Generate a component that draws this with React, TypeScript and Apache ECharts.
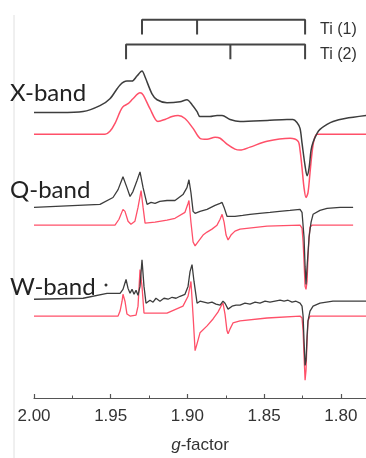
import React, { useEffect, useRef } from "react";
import * as echarts from "echarts";

// [g-factor, intensity (arb. units, relative to trace baseline)]
const xBandExp: [number, number][] = [
  [2.0, -1], [1.983, -1], [1.968, 0], [1.957, 6], [1.9505, 13], [1.9439, 27], [1.9394, 31], [1.9361, 31],
  [1.9329, 36], [1.9296, 41], [1.9276, 35], [1.9231, 18], [1.9198, 12], [1.9133, 9], [1.9048, 10], [1.9003, 12],
  [1.897, 7], [1.8937, 0], [1.8918, -5], [1.8853, -5], [1.8807, -4], [1.8774, -4], [1.8722, -8], [1.8657, -10],
  [1.8481, -9], [1.8351, -8], [1.8312, -8], [1.8286, -11], [1.8266, -17], [1.8253, -32], [1.8233, -55], [1.822, -65],
  [1.8207, -57], [1.8194, -39], [1.8181, -31], [1.8155, -22], [1.8136, -18], [1.809, -13], [1.8051, -10], [1.7973, -7],
  [1.7836, -4],
];
const xBandSim: [number, number][] = [
  [2.0, 0], [1.9537, 0], [1.9505, 3], [1.9472, 11], [1.9439, 23], [1.942, 28], [1.9387, 31], [1.9355, 36],
  [1.9309, 42], [1.9289, 40], [1.9244, 26], [1.9192, 13], [1.9146, 15], [1.91, 18], [1.9061, 19], [1.9016, 16],
  [1.8963, 6], [1.8918, -4], [1.8872, -5], [1.882, -3], [1.8787, -4], [1.8742, -10], [1.869, -15], [1.8657, -16],
  [1.8592, -13], [1.8481, -7], [1.8331, -4], [1.8279, -7], [1.8266, -16], [1.8253, -34], [1.824, -54], [1.8227, -64],
  [1.8214, -59], [1.8201, -39], [1.8188, -19], [1.8175, -6], [1.8155, 0], [1.7836, 0],
];
const qBandExp: [number, number][] = [
  [2.0, 0], [1.957, 3], [1.9485, 10], [1.9452, 18], [1.942, 31], [1.9394, 20], [1.9374, 11], [1.9355, 16],
  [1.9329, 27], [1.9309, 36], [1.9289, 20], [1.9263, 3], [1.9237, 5], [1.9211, 4], [1.918, 6], [1.9133, 7],
  [1.9081, 7], [1.9029, 13], [1.9003, 20], [1.899, 28], [1.8977, 15], [1.8963, -4], [1.895, -6], [1.8918, -4],
  [1.8872, -2], [1.882, 2], [1.8787, 4], [1.8774, 5], [1.8761, 0], [1.8742, -9], [1.869, -9], [1.864, -8],
  [1.8592, -7], [1.853, -6], [1.8462, -5], [1.84, -4], [1.8331, -3], [1.8266, -2], [1.8253, -5], [1.824, -30],
  [1.8233, -60], [1.8227, -78], [1.822, -60], [1.8207, -30], [1.8194, -15], [1.8181, -7], [1.8136, -3], [1.809, -1],
  [1.8005, 0], [1.792, 0],
];
const qBandSim: [number, number][] = [
  [2.0, 0], [1.9472, 0], [1.9446, 6], [1.942, 16], [1.9407, 14], [1.9387, 4], [1.9368, 1], [1.9342, 4],
  [1.9322, 18], [1.9302, 35], [1.9289, 18], [1.9276, 2], [1.9211, 3], [1.9133, 5], [1.9081, 7], [1.9016, 13],
  [1.8996, 22], [1.899, 25], [1.8977, 3], [1.8963, -17], [1.895, -21], [1.8931, -17], [1.8898, -10], [1.8872, -7],
  [1.884, -4], [1.8807, 0], [1.8787, 6], [1.8774, 11], [1.8761, 3], [1.8748, -10], [1.8735, -15], [1.8716, -10],
  [1.869, -6], [1.8657, -4], [1.8481, -1], [1.8266, 0], [1.8253, -3], [1.8246, -17], [1.824, -37], [1.8233, -62],
  [1.8227, -65], [1.822, -57], [1.8214, -32], [1.8207, -12], [1.8201, -2], [1.8188, 0], [1.792, 0],
];
const wBandExp: [number, number][] = [
  [2.0, 0], [1.968, 1], [1.9524, 6], [1.9439, 6], [1.942, 10], [1.94, 20], [1.9387, 11], [1.9374, 6],
  [1.9361, 10], [1.9348, 5], [1.9335, 9], [1.9322, 4], [1.9309, 13], [1.9296, 40], [1.9283, 13], [1.927, -4],
  [1.9244, -1], [1.9224, -3], [1.9205, 1], [1.9179, -2], [1.9153, 1], [1.9126, 0], [1.91, 2], [1.9074, 1],
  [1.9048, 3], [1.9016, 5], [1.8996, 13], [1.8983, 28], [1.897, 35], [1.8957, 18], [1.8937, -4], [1.8918, -2],
  [1.8892, -3], [1.8866, -4], [1.884, -3], [1.8814, -5], [1.8787, -6], [1.8768, -2], [1.8755, -4], [1.8735, -10],
  [1.8709, -7], [1.8683, -6], [1.8657, -6], [1.8625, -4], [1.8592, -5], [1.8559, -3], [1.8527, -4], [1.8494, -2],
  [1.8462, -3], [1.8429, -2], [1.8396, -1], [1.837, -2], [1.8344, -1], [1.8318, -3], [1.8292, -2], [1.8266, -4],
  [1.8253, -7], [1.8246, -17], [1.824, -42], [1.8233, -67], [1.8227, -62], [1.822, -37], [1.8214, -22], [1.8201, -12],
  [1.8181, -7], [1.8136, -4], [1.8051, -2], [1.7836, -2],
];
const wBandSim: [number, number][] = [
  [2.0, 0], [1.9452, 0], [1.9439, 5], [1.9426, 15], [1.942, 22], [1.9407, 15], [1.9394, 2], [1.9374, 0],
  [1.9335, 1], [1.9322, 10], [1.9309, 47], [1.9296, 30], [1.9283, 3], [1.9133, 3], [1.9029, 10], [1.8996, 20],
  [1.8983, 30], [1.8977, 35], [1.8963, 0], [1.895, -35], [1.8937, -28], [1.8918, -17], [1.8872, -10], [1.8833, -3],
  [1.8801, 4], [1.8774, 12], [1.8768, 13], [1.8755, 2], [1.8742, -15], [1.8735, -18], [1.8722, -13], [1.8703, -7],
  [1.8657, -5], [1.8481, -2], [1.8266, 0], [1.8253, -2], [1.8246, -15], [1.824, -40], [1.8233, -65], [1.8227, -55],
  [1.822, -25], [1.8214, -5], [1.8201, 0], [1.7836, 0],
];

const ti1Positions = [1.9296, 1.8937, 1.8233];
const ti2Positions = [1.94, 1.872, 1.8233];
const siteLabels = ["Ti (1)", "Ti (2)"];
const bandLabels = ["X-band", "Q-band", "W-band"];
const majorTicks = [1.8, 1.85, 1.9, 1.95, 2.0];
const minorTicks = [1.825, 1.875, 1.925, 1.975];

// layout (stacking offsets on the hidden y axis)
const OFF = { xExp: 290, xSim: 267, qExp: 193, qSim: 175, wExp: 100, wSim: 83 };
const STICK = { ti1: 383, ti2: 358, drop: 15 };

const BLACK = "#3d3d3d";
const RED = "#ff5069";

function shift(d: [number, number][], off: number) {
  return d.map(([g, v]) => [g, v + off]);
}
function stick(pos: number[], top: number, drop: number) {
  const pts: number[][] = [];
  pos.forEach((g, i) => {
    if (i === 0) {
      pts.push([g, top - drop], [g, top]);
    } else {
      pts.push([g, top], [g, top - drop], [g, top]);
    }
  });
  return pts;
}

export default function App() {
  const ref = useRef<HTMLDivElement>(null);
  useEffect(() => {
    if (!ref.current) return;
    const chart = echarts.init(ref.current, undefined, { renderer: "svg" });
    const line = (data: number[][], color: string, width = 1.5, smooth: number | boolean = false) => ({
      type: "line",
      data,
      symbol: "none",
      smooth,
      lineStyle: { color, width },
      xAxisIndex: 0,
      yAxisIndex: 0,
      z: color === RED ? 2 : 3,
    });
    chart.setOption({
      animation: false,
      grid: { left: 34, right: 0, top: 0, bottom: 55 },
      xAxis: [
        {
          type: "value",
          inverse: true,
          min: 1.7836,
          max: 2.0,
          name: "{i|g}-factor",
          nameLocation: "middle",
          nameGap: 38,
          nameTextStyle: {
            fontFamily: "Liberation Sans",
            fontSize: 17,
            color: "#333",
            rich: { i: { fontStyle: "italic", fontFamily: "Liberation Sans", fontSize: 17, color: "#333" } },
          },
          axisLine: { show: true, lineStyle: { color: "#555", width: 1.2 } },
          axisTick: { show: true, inside: true, length: 4, customValues: majorTicks, lineStyle: { color: "#555", width: 1.2 } },
          axisLabel: {
            customValues: majorTicks,
            margin: 9,
            fontFamily: "Liberation Sans",
            fontSize: 17,
            color: "#333",
            formatter: (v: number) => v.toFixed(2),
          },
          splitLine: { show: false },
        },
        {
          type: "value",
          inverse: true,
          min: 1.7836,
          max: 2.0,
          position: "bottom",
          axisLine: { show: false },
          axisTick: { show: true, inside: true, length: 2.5, customValues: minorTicks, lineStyle: { color: "#555", width: 1 } },
          axisLabel: { show: false },
          splitLine: { show: false },
        },
      ],
      yAxis: { type: "value", min: 0, max: 403, show: false },
      series: [
        line(stick(ti1Positions, STICK.ti1, STICK.drop), "#444", 2),
        line(stick(ti2Positions, STICK.ti2, STICK.drop), "#444", 2),
        line(shift(xBandSim, OFF.xSim), RED, 1.5, 0.3),
        line(shift(xBandExp, OFF.xExp), BLACK, 1.5, 0.3),
        line(shift(qBandSim, OFF.qSim), RED, 1.3),
        line(shift(qBandExp, OFF.qExp), BLACK, 1.3),
        line(shift(wBandSim, OFF.wSim), RED, 1.3),
        line(shift(wBandExp, OFF.wExp), BLACK, 1.3),
      ],
      graphic: [
        { type: "line", shape: { x1: 14, y1: 15, x2: 14, y2: 458 }, style: { stroke: "#e0e0e0", lineWidth: 1 } },
        ...siteLabels.map((t, i) => ({
          type: "text",
          x: 320,
          y: 28 + i * 25,
          style: { text: t, fontFamily: "Liberation Sans", fontSize: 16, fill: "#333", verticalAlign: "middle" },
        })),
        ...bandLabels.map((t, i) => ({
          type: "text",
          x: 10,
          y: [91, 188, 285][i],
          style: { text: t, fontFamily: "Lato", fontSize: 24, fill: "#222", verticalAlign: "middle", align: "left" },
        })),
        { type: "circle", shape: { cx: 106, cy: 285, r: 1.5 }, style: { fill: "#333" } },
      ],
    });
    return () => chart.dispose();
  }, []);
  return <div ref={ref} style={{ position: "fixed", left: 0, top: 0, width: 366, height: 458 }} />;
}
